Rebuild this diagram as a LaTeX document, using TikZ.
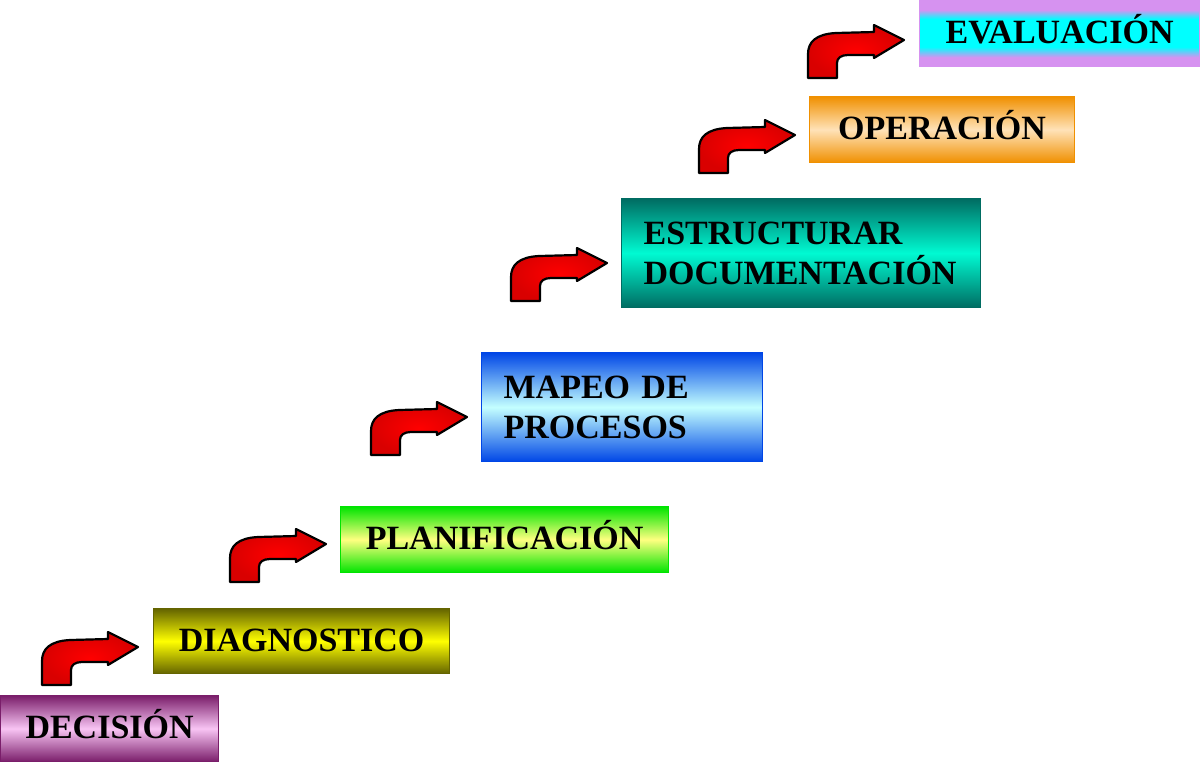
\documentclass[tikz,border=0pt]{standalone}
\usepackage{fontspec}
\setmainfont{Liberation Serif}
\usetikzlibrary{positioning}

\definecolor{evalviolet}{RGB}{214,146,240}
\definecolor{decout}{RGB}{122,30,106}
\definecolor{decin}{RGB}{248,196,244}
\definecolor{diagout}{RGB}{100,100,0}
\definecolor{diagin}{RGB}{255,255,0}
\definecolor{planout}{RGB}{0,228,0}
\definecolor{planin}{RGB}{255,255,128}
\definecolor{mapout}{RGB}{0,70,230}
\definecolor{mapin}{RGB}{196,255,255}
\definecolor{estout}{RGB}{0,108,98}
\definecolor{estin}{RGB}{0,250,210}
\definecolor{operout}{RGB}{240,144,0}
\definecolor{operin}{RGB}{255,226,184}

\pgfdeclareverticalshading{evalshade}{100bp}{
  color(0bp)=(evalviolet); color(32bp)=(evalviolet); color(40bp)=(cyan);
  color(61bp)=(cyan); color(68bp)=(evalviolet); color(100bp)=(evalviolet)}

\tikzset{
  stepbox/.style 2 args={anchor=north west, inner sep=0pt, draw=#1, line width=0.6pt,
    top color=#1, bottom color=#1, middle color=#2,
    font=\fontsize{17}{20}\selectfont\bfseries, text height=10pt, text depth=0pt},
  twoline/.style={align=left, inner xsep=11pt, text height=, text depth=},
  bendarrow/.pic={
    \draw[black, line width=1.1pt, inner color=red, outer color=red!85!black, line join=round]
      (0,0) -- (0,-24) .. controls (0,-36) and (8,-44) .. (28,-45) -- (66,-46)
      -- (66,-53) -- (96,-38) -- (66,-20) -- (66,-23) -- (40,-23)
      .. controls (33,-23) and (29,-20) .. (29,-15) -- (29,0) -- cycle;
  }
}

\begin{document}
\begin{tikzpicture}[x=0.5pt, y=-0.5pt]
\useasboundingbox (0,0) rectangle (1200,762);

 % steps
 \node[stepbox={decout}{decin}, minimum width=109pt, minimum height=33pt] (dec) at (0,695) {DECISIÓN};
 \node[stepbox={diagout}{diagin}, minimum width=148pt, minimum height=32.5pt] (diag) at (153,608) {DIAGNOSTICO};
 \node[stepbox={planout}{planin}, minimum width=164pt, minimum height=33pt] (plan) at (340,506) {PLANIFICACIÓN};
 \node[stepbox={mapout}{mapin}, twoline, text width=118.5pt, minimum height=54.5pt] (mapeo) at (481,352) {MAPEO DE\\PROCESOS};
 \node[stepbox={estout}{estin}, twoline, text width=157.5pt, minimum height=54.5pt] (estr) at (621,198) {ESTRUCTURAR\\DOCUMENTACIÓN};
 \node[stepbox={operout}{operin}, minimum width=132.5pt, minimum height=33pt] (oper) at (809,96) {OPERACIÓN};
 \node[stepbox={evalviolet}{cyan}, shading=evalshade, minimum width=140pt, minimum height=33pt] (eval) at (919,0) {EVALUACIÓN};

 % arrows
 \foreach \x/\y in {42/685, 230/582, 371/455, 511/301, 699/173, 808/78}
   \pic at (\x,\y) {bendarrow};

\end{tikzpicture}
\end{document}
